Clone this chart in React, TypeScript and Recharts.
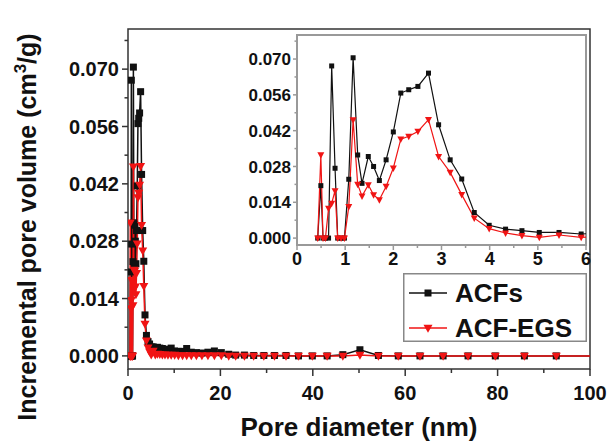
import React from 'react';
import { LineChart, Line, XAxis, YAxis, ReferenceArea, Legend } from 'recharts';

// pore diameter (nm) of each DFT bin
const poreDiameter = [
  0.43, 0.495, 0.54, 0.59, 0.655, 0.72, 0.79, 0.845, 0.915, 0.985,
  1.075, 1.165, 1.26, 1.35, 1.48, 1.59, 1.71, 1.85,
  2.0, 2.155, 2.32, 2.51, 2.73, 2.94,
  3.18, 3.42, 3.68, 3.99,
  4.33, 4.67, 5.03, 5.44, 5.9,
  6.37, 6.88, 7.43, 8.0, 8.65, 9.35,
  10.1, 10.9, 11.8, 12.7, 13.7, 14.8,
  16.0, 17.3, 18.7, 20.2, 21.8,
  23.3, 25.2, 27.2, 29.4, 31.7, 34.2, 36.9, 39.9,
  43.1, 46.5, 50.2, 54.2, 58.5,
  63.2, 68.2, 73.6, 79.5, 85.8, 92.7, 100,
];

const acfs = [
  0, 0.0205, 0, 0, 0, 0.0673, 0.0273, 0, 0, 0,
  0.023, 0.0705, 0.0325, 0.0214, 0.0319, 0.028, 0.0225, 0.0306,
  0.0415, 0.0567, 0.058, 0.0593, 0.0645, 0.0443,
  0.0306, 0.0231, 0.01, 0.005,
  0.0035, 0.0029, 0.0022, 0.0022, 0.0016,
  0.0021, 0.0019, 0.0018, 0.0016, 0.0016, 0.0019,
  0.0012, 0.0011, 0.0011, 0.0018, 0.0009, 0.0008,
  0.0007, 0.0009, 0.0012, 0.0008, 0.0004,
  0.0002, 0.0002, 0.0001, 0.0001, 0.0001, 0.0001, 0, 0,
  0, 0.0003, 0.0015, 0.0001, 0,
  0, 0, 0, 0, 0, 0, 0,
];

const acfEgs = [
  0, 0.0325, 0, 0, 0.0116, 0.0136, 0.0185, 0, 0, 0,
  0.0123, 0.0462, 0.021, 0.0164, 0.0208, 0.0169, 0.015, 0.0202,
  0.0274, 0.0387, 0.0398, 0.0417, 0.0463, 0.0319,
  0.0257, 0.017, 0.0078, 0.0037,
  0.002, 0.001, 0.0003, 0.0012, 0.0003,
  0.0005, 0.0004, 0.0003, 0.0003, 0.0002, 0.0002,
  0.0002, 0.0001, 0.0001, 0.0001, 0.0001, 0.0001,
  0.0001, 0.0001, 0.0001, 0.0001, 0,
  0, 0, 0, 0, 0, 0, 0, 0,
  0, 0, 0.0002, 0, 0,
  0, 0, 0, 0, 0, 0, 0,
];

const mainXTicks = [0, 10, 20, 30, 40, 50, 60, 70, 80, 90, 100];
const insetXTicks = [0, 0.5, 1, 1.5, 2, 2.5, 3, 3.5, 4, 4.5, 5, 5.5, 6];
const volumeTicks = [0, 0.007, 0.014, 0.021, 0.028, 0.035, 0.042, 0.049, 0.056, 0.063, 0.07, 0.077];

const data = poreDiameter.map((d, i) => ({ d, acfs: acfs[i], acfEgs: acfEgs[i] }));
const insetData = data.filter((p) => p.d < 6.5);

const FONT = '"Liberation Sans", Arial, sans-serif';
const BLACK = '#111111';
const RED = '#f01414';
const FRAME = '#333333';
const INSET_FRAME = '#999999';

// markers are only drawn for bins strictly inside the visible x range
const squareDot = (size: number, color: string, maxX: number) => (props: any) => {
  const { cx, cy, index, payload } = props;
  if (cx == null || cy == null || payload.d >= maxX) return <g key={index} />;
  return <rect key={index} x={cx - size / 2} y={cy - size / 2} width={size} height={size} fill={color} />;
};

const triangleDot = (w: number, h: number, color: string, maxX: number) => (props: any) => {
  const { cx, cy, index, payload } = props;
  if (cx == null || cy == null || payload.d >= maxX) return <g key={index} />;
  const top = cy - h * 0.4;
  return (
    <path
      key={index}
      d={`M${cx - w / 2},${top} L${cx + w / 2},${top} L${cx},${top + h} Z`}
      fill={color}
    />
  );
};

const makeXTick = (major: number, minor: number, labelDy: number, size: number, stroke: string) => (props: any) => {
  const { x, y, payload, index } = props;
  const isMajor = index % 2 === 0;
  return (
    <g>
      <line x1={x} x2={x} y1={y} y2={y + (isMajor ? major : minor)} stroke={stroke} strokeWidth={1.5} />
      {isMajor && (
        <text x={x} y={y + labelDy} textAnchor="middle" fontSize={size} fontWeight="bold" fontFamily={FONT} fill="#111">
          {payload.value}
        </text>
      )}
    </g>
  );
};

const makeYTick = (major: number, minor: number, gap: number, size: number, stroke: string) => (props: any) => {
  const { x, y, payload, index } = props;
  const isMajor = index % 2 === 0;
  return (
    <g>
      <line x1={x - (isMajor ? major : minor)} x2={x} y1={y} y2={y} stroke={stroke} strokeWidth={1.5} />
      {isMajor && (
        <text x={x - major - gap} y={y} dy="0.36em" textAnchor="end" fontSize={size} fontWeight="bold" fontFamily={FONT} fill="#111">
          {payload.value.toFixed(3)}
        </text>
      )}
    </g>
  );
};

const YTitle = () => (
  <text
    x={36}
    y={227}
    transform="rotate(-90, 36, 227)"
    textAnchor="middle"
    fontSize={25}
    fontWeight="bold"
    fontFamily={FONT}
    fill="#111"
  >
    <tspan>Incremental pore volume (cm</tspan>
    <tspan dy={-10} fontSize={17}>3</tspan>
    <tspan dy={10}>/g)</tspan>
  </text>
);

const XTitle = () => (
  <text x={359} y={436} textAnchor="middle" fontSize={26} fontWeight="bold" fontFamily={FONT} fill="#111">
    Pore diameter (nm)
  </text>
);

const legendItems = [
  { name: 'ACFs', color: BLACK, marker: 'square' },
  { name: 'ACF-EGS', color: RED, marker: 'triangle' },
];

const LegendBox = () => (
  <svg width={184} height={69} style={{ display: 'block' }}>
    <rect x={0.75} y={0.75} width={182.5} height={67.5} fill="#fff" stroke="#888" strokeWidth={1.5} />
    {legendItems.map((item, i) => {
      const cy = 20 + i * 35;
      return (
        <g key={item.name}>
          <line x1={6} x2={44} y1={cy} y2={cy} stroke={item.color} strokeWidth={1.5} />
          {item.marker === 'square' ? (
            <rect x={21.5} y={cy - 3.5} width={7} height={7} fill={item.color} />
          ) : (
            <path d={`M${20.5},${cy - 3.2} L${29.5},${cy - 3.2} L25,${cy + 4.8} Z`} fill={item.color} />
          )}
          <text x={52} y={cy + 9.3} fontSize={26} fontWeight="bold" fontFamily={FONT} fill="#111">
            {item.name}
          </text>
        </g>
      );
    })}
  </svg>
);

export default function App() {
  return (
    <div style={{ position: 'absolute', left: 0, top: 0, width: 608, height: 445, background: '#fff' }}>
      <LineChart width={608} height={445} data={data} margin={{ top: 29, right: 18, bottom: 46, left: 0 }}>
        <XAxis
          dataKey="d"
          type="number"
          domain={[0, 100]}
          allowDataOverflow
          ticks={mainXTicks}
          interval={0}
          tickSize={0}
          tickMargin={0}
          tick={makeXTick(7, 4, 31, 20, FRAME)}
          axisLine={false}
          height={30}
          label={<XTitle />}
        />
        <YAxis
          type="number"
          domain={[-0.0032, 0.0798]}
          allowDataOverflow
          ticks={volumeTicks}
          interval={0}
          tickSize={0}
          tickMargin={0}
          tick={makeYTick(6, 3.5, 3, 20, FRAME)}
          axisLine={false}
          width={128}
          label={<YTitle />}
        />
        <ReferenceArea x1={0} x2={100} y1={-0.0032} y2={0.0798} fill="none" stroke={FRAME} strokeWidth={1.5} />
        <Line
          dataKey="acfs"
          type="linear"
          stroke={BLACK}
          strokeWidth={1.5}
          dot={squareDot(7, BLACK, 100)}
          activeDot={false}
          isAnimationActive={false}
        />
        <Line
          dataKey="acfEgs"
          type="linear"
          stroke={RED}
          strokeWidth={1.5}
          dot={triangleDot(9, 8, RED, 100)}
          activeDot={false}
          isAnimationActive={false}
        />
        <Legend
          layout="vertical"
          align="center"
          verticalAlign="middle"
          content={() => <LegendBox />}
          wrapperStyle={{ left: 403, top: 273, width: 184, height: 69 }}
        />
      </LineChart>

      <div style={{ position: 'absolute', left: 240, top: 25 }}>
        <LineChart width={360} height={250} data={insetData} margin={{ top: 10, right: 14, bottom: 0, left: 0 }}>
          <XAxis
            dataKey="d"
            type="number"
            domain={[0, 6]}
            allowDataOverflow
            ticks={insetXTicks}
            interval={0}
            tickSize={0}
            tickMargin={0}
            tick={makeXTick(5, 3, 20, 18, INSET_FRAME)}
            axisLine={false}
            height={30}
          />
          <YAxis
            type="number"
            domain={[-0.0027, 0.0794]}
            allowDataOverflow
            ticks={volumeTicks}
            interval={0}
            tickSize={0}
            tickMargin={0}
            tick={makeYTick(4, 2.5, 2, 17, INSET_FRAME)}
            axisLine={false}
            width={57}
          />
          <ReferenceArea x1={0} x2={6} y1={-0.0027} y2={0.0794} fill="#fff" stroke={INSET_FRAME} strokeWidth={2} />
          <Line
            dataKey="acfs"
            type="linear"
            stroke={BLACK}
            strokeWidth={1.2}
            dot={squareDot(5, BLACK, 6)}
            activeDot={false}
            isAnimationActive={false}
          />
          <Line
            dataKey="acfEgs"
            type="linear"
            stroke={RED}
            strokeWidth={1.2}
            dot={triangleDot(7, 6.5, RED, 6)}
            activeDot={false}
            isAnimationActive={false}
          />
        </LineChart>
      </div>
    </div>
  );
}
